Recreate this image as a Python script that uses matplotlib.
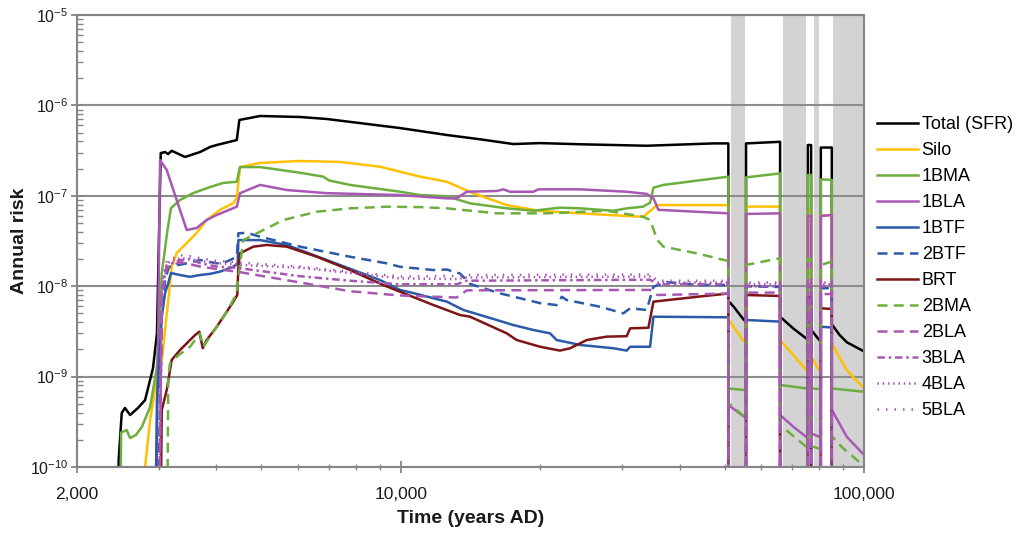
"""
Annual risk from the repository parts over time (log-log), shaded periods
where the release drops out.
"""
import matplotlib
matplotlib.use('Agg')
import matplotlib.pyplot as plt
from matplotlib.ticker import (FixedLocator, FixedFormatter, LogLocator,
                               NullFormatter, LogFormatterSciNotation)

plt.rcParams['font.family'] = ['Liberation Sans', 'DejaVu Sans']
plt.rcParams['mathtext.fontset'] = 'custom'
plt.rcParams['mathtext.rm'] = 'Liberation Sans'
plt.rcParams['mathtext.it'] = 'Liberation Sans:italic'
plt.rcParams['mathtext.bf'] = 'Liberation Sans:bold'

# ── DATA (years AD, annual risk) ─────────────────────────────────
OFF = 1e-12   # below the axis

total_years = [2450, 2460, 2498, 2538, 2604, 2708, 2805, 2918, 2976, 3032, 3098,
               3145, 3202, 3422, 3686, 3874, 4006, 4425, 4482, 4967, 6060, 6918,
               9963, 12568, 14826, 17494, 19981, 24373, 33960, 47227, 50940,
               50940, 52500, 53500, 55140, 55620,
               55620, 65880,
               65880, 70380, 74980, 75620,
               75620, 76860,
               76860, 79980, 80660,
               80660, 85180,
               85180, 88500, 91780, 100000]
total_risk = [OFF, 1.2e-10, 3.96e-10, 4.5e-10, 3.76e-10, 4.5e-10, 5.5e-10, 1.24e-9,
              3.0e-9, 2.97e-7, 3.05e-7, 2.9e-7, 3.15e-7, 2.69e-7, 3.05e-7, 3.47e-7,
              3.65e-7, 4.14e-7, 6.9e-7, 7.64e-7, 7.45e-7, 7.08e-7, 5.62e-7, 4.71e-7,
              4.22e-7, 3.74e-7, 3.83e-7, 3.72e-7, 3.58e-7, 3.8e-7, 3.8e-7,
              6.9e-9, 5.8e-9, 5.1e-9, 4.2e-9, 4.1e-9,
              3.8e-7, 3.96e-7,
              4.6e-9, 3.4e-9, 2.65e-9, 2.6e-9,
              3.65e-7, 3.65e-7,
              3.3e-9, 2.55e-9, 2.5e-9,
              3.42e-7, 3.42e-7,
              3.8e-9, 2.9e-9, 2.4e-9, 1.9e-9]

silo_years = [2790, 2805, 2876, 2972, 3048, 3148, 3202, 3282, 3450, 3626, 3810,
              4071, 4350, 4425, 4497, 4967, 6060, 7394, 9019, 11004, 12568, 14320,
              16936, 19981, 24373, 33340, 35100, 35800, 50940,
              50940, 53000, 55140, 55620,
              55620, 65880,
              65880, 70380, 74980, 75620,
              75620, 76860,
              76860, 79980, 80660,
              80660, 85180,
              85180, 91780, 100000]
silo_risk = [OFF, 1.0e-10, 3.3e-10, 9.2e-10, 1.5e-9, 7.0e-9, 1.64e-8, 2.33e-8, 3.0e-8,
             3.9e-8, 5.4e-8, 7.0e-8, 8.3e-8, 9.5e-8, 2.08e-7, 2.31e-7, 2.43e-7,
             2.37e-7, 2.1e-7, 1.63e-7, 1.43e-7, 1.07e-7, 7.9e-8, 6.8e-8, 6.4e-8,
             5.85e-8, 7.3e-8, 7.9e-8, 7.9e-8,
             4.3e-9, 3.2e-9, 2.43e-9, 2.4e-9,
             7.6e-8, 7.6e-8,
             2.54e-9, 1.73e-9, 1.18e-9, 1.15e-9,
             7.0e-8, 7.0e-8,
             1.66e-9, 1.18e-9, 1.15e-9,
             6.1e-8, 6.1e-8,
             2.3e-9, 1.18e-9, 7.4e-10]

bma1_years = [2470, 2490, 2560, 2604, 2680, 2760, 2876, 2976, 3048, 3130, 3190, 3338,
              3560, 3874, 4140, 4425, 4497, 4967, 6060, 6800, 7000, 7770, 9963,
              11004, 12568, 14110, 16936, 19330, 22065, 24373, 28760, 30740, 33340,
              34524, 35100, 36880, 50940,
              50940, 55140, 55620,
              55620, 65880,
              65880, 74980, 75620,
              75620, 76860,
              76860, 79980, 80660,
              80660, 85180,
              85180, 100000]
bma1_risk = [OFF, 2.4e-10, 2.57e-10, 2.09e-10, 2.26e-10, 2.77e-10, 4.6e-10, 1.28e-9,
             1.4e-8, 3.9e-8, 7.3e-8, 9.0e-8, 1.07e-7, 1.25e-7, 1.39e-7, 1.43e-7,
             2.08e-7, 2.08e-7, 1.8e-7, 1.63e-7, 1.48e-7, 1.32e-7, 1.11e-7, 1.02e-7,
             9.9e-8, 8.26e-8, 7.27e-8, 6.84e-8, 7.4e-8, 7.27e-8, 6.84e-8, 7.27e-8,
             7.58e-8, 8.4e-8, 1.23e-7, 1.32e-7, 1.63e-7,
             7.4e-10, 7.1e-10, 7.1e-10,
             1.6e-7, 1.77e-7,
             8.1e-10, 7.4e-10, 7.4e-10,
             1.7e-7, 1.7e-7,
             7.4e-10, 7.3e-10, 7.3e-10,
             1.52e-7, 1.5e-7,
             7.4e-10, 6.8e-10]

bla1_years = [2960, 2972, 3022, 3124, 3282, 3450, 3626, 3810, 4006, 4425, 4497, 4967,
              5672, 6918, 9963, 12568, 13200, 13880, 16110, 16650, 17210, 19330,
              19810, 24373, 30740, 33960, 35100, 35980, 50940,
              50940, 55140, 55620,
              55620, 65880,
              65880, 70380, 74980, 75620,
              75620, 76860,
              76860, 79980, 80660,
              80660, 85180,
              85180, 91780, 100000]
bla1_risk = [OFF, 1e-10, 2.49e-7, 1.93e-7, 9.0e-8, 4.19e-8, 4.41e-8, 5.4e-8, 6.14e-8,
             7.57e-8, 1.07e-7, 1.32e-7, 1.16e-7, 1.07e-7, 1.02e-7, 9.37e-8, 9.37e-8,
             1.11e-7, 1.13e-7, 1.18e-7, 1.11e-7, 1.11e-7, 1.18e-7, 1.18e-7, 1.11e-7,
             1.05e-7, 9.4e-8, 7.0e-8, 6.4e-8,
             4.85e-10, 3.6e-10, 3.6e-10,
             6.3e-8, 6.4e-8,
             3.76e-10, 2.79e-10, 2.16e-10, 2.16e-10,
             6.0e-8, 6.0e-8,
             2.36e-10, 2.16e-10, 2.16e-10,
             5.98e-8, 6.14e-8,
             4.3e-10, 2.16e-10, 1.36e-10]

btf1_years = [2930, 2976, 3048, 3098, 3148, 3190, 3338, 3508, 3686, 3874, 4071, 4350,
              4445, 4460, 4967, 5672, 6918, 9019, 9963, 10640, 12568, 13650, 16110,
              17494, 19330, 21000, 21700, 24373, 28760, 30740, 31260, 34524, 35100,
              50940,
              50940, 55620,
              55620, 65880,
              65880, 75620,
              75620, 76860,
              76860, 80660,
              80660, 85180,
              85180, 100000]
btf1_risk = [OFF, 5.5e-10, 4.6e-9, 8.4e-9, 1.08e-8, 1.4e-8, 1.33e-8, 1.27e-8, 1.33e-8,
             1.37e-8, 1.45e-8, 1.64e-8, 1.79e-8, 3.24e-8, 3.24e-8, 2.86e-8, 1.95e-8,
             1.17e-8, 9.1e-9, 8.4e-9, 6.75e-9, 5.46e-9, 4.23e-9, 3.72e-9, 3.28e-9,
             3.01e-9, 2.54e-9, 2.24e-9, 2.06e-9, 1.94e-9, 2.14e-9, 2.14e-9, 4.6e-9,
             4.53e-9,
             OFF, OFF,
             4.23e-9, 4.06e-9,
             OFF, OFF,
             4.0e-9, 4.0e-9,
             OFF, OFF,
             3.56e-9, 3.5e-9,
             OFF, OFF]

btf2_years = [2950, 3050, 3100, 3160, 3450, 3686, 4006, 4210, 4425, 4460, 4650, 4967,
              6060, 7770, 9326, 9963, 11760, 12568, 13430, 14110, 16376, 19981,
              21700, 22260, 22800, 26921, 30220, 31260, 33960, 35100, 37500, 44266,
              50940,
              50940, 55620,
              55620, 65880,
              65880, 75620,
              75620, 76860,
              76860, 80660,
              80660, 85180,
              85180, 100000]
btf2_risk = [OFF, 5e-9, 1.2e-8, 1.64e-8, 1.79e-8, 1.95e-8, 1.79e-8, 1.87e-8, 2.12e-8,
             3.85e-8, 3.9e-8, 3.53e-8, 2.74e-8, 2.12e-8, 1.79e-8, 1.64e-8, 1.51e-8,
             1.53e-8, 1.38e-8, 1.06e-8, 8.34e-9, 6.5e-9, 6.19e-9, 7.65e-9, 7.04e-9,
             5.93e-9, 5.01e-9, 5.7e-9, 5.46e-9, 9.89e-9, 1.11e-8, 1.03e-8, 1.03e-8,
             OFF, OFF,
             1.0e-8, 9.8e-9,
             OFF, OFF,
             1.0e-8, 1.0e-8,
             OFF, OFF,
             9.5e-9, 9.5e-9,
             OFF, OFF]

brt_years = [3010, 3048, 3124, 3202, 3338, 3596, 3674, 3736, 3810, 4006, 4210, 4350,
             4436, 4460, 4497, 4804, 5136, 5672, 6586, 7770, 9170, 9963, 11760,
             13430, 14110, 16936, 17790, 19981, 22065, 23200, 25200, 27840, 30740,
             31260, 34240, 35100, 44266, 50940,
             50940, 55620,
             55620, 65880,
             65880, 75620,
             75620, 76860,
             76860, 80660,
             80660, 85180,
             85180, 100000]
brt_risk = [OFF, 4.27e-10, 7.11e-10, 1.53e-9, 1.97e-9, 2.88e-9, 3.14e-9, 2.06e-9,
            2.54e-9, 3.56e-9, 5.22e-9, 6.75e-9, 8.0e-9, 1.64e-8, 2.31e-8, 2.74e-8,
            2.86e-8, 2.74e-8, 2.12e-8, 1.51e-8, 1.03e-8, 8.69e-9, 6.19e-9, 4.8e-9,
            4.6e-9, 3.01e-9, 2.54e-9, 2.14e-9, 1.94e-9, 2.06e-9, 2.54e-9, 2.77e-9,
            2.8e-9, 3.42e-9, 3.47e-9, 6.75e-9, 7.7e-9, 8.3e-9,
            OFF, OFF,
            8.0e-9, 7.8e-9,
            OFF, OFF,
            7.5e-9, 7.5e-9,
            OFF, OFF,
            5.7e-9, 5.6e-9,
            OFF, OFF]

bma2_years = [3120, 3148, 3176, 3282, 3508, 3686, 3745, 4006, 4210, 4425, 4460, 4572,
              4726, 4967, 5578, 6586, 7770, 9326, 11004, 12568, 16110, 20640, 27840,
              33340, 34524, 35800, 36880, 43540, 50940,
              50940, 55140, 55620,
              55620, 65880,
              65880, 70380, 74980, 75620,
              75620, 76860,
              76860, 79980, 80660,
              80660, 85180,
              85180, 90240, 96480, 100000]
bma2_risk = [OFF, 1.0e-9, 1.41e-9, 1.66e-9, 2.14e-9, 3.0e-9, 2.14e-9, 3.56e-9, 5.2e-9,
             8.34e-9, 1.27e-8, 3.24e-8, 3.53e-8, 4.01e-8, 5.4e-8, 6.67e-8, 7.27e-8,
             7.58e-8, 7.5e-8, 7.27e-8, 6.4e-8, 6.4e-8, 6.84e-8, 5.87e-8, 5.4e-8,
             3.24e-8, 2.74e-8, 2.31e-8, 1.9e-8,
             5.1e-10, 3.6e-10, 3.6e-10,
             1.72e-8, 2.04e-8,
             2.92e-10, 2.2e-10, 1.68e-10, 1.68e-10,
             2.0e-8, 2.0e-8,
             1.7e-10, 1.6e-10, 1.6e-10,
             1.72e-8, 1.87e-8,
             2.2e-10, 1.6e-10, 1.2e-10, 1.0e-10]

# 2BLA..5BLA share one time grid
bla_years = [2985, 3050, 3124, 3338, 3508, 3686, 4006, 4425, 4497, 6060, 7770, 9963,
             13200, 13880, 34524, 35800, 50940,
             50940, 55620,
             55620, 65880,
             65880, 75620,
             75620, 76860,
             76860, 80660,
             80660, 85180,
             85180, 100000]
bla2_risk = [OFF, 8e-9, 1.6e-8, 1.85e-8, 1.75e-8, 1.65e-8, 1.55e-8, 1.45e-8, 1.43e-8,
             1.1e-8, 8.8e-9, 7.9e-9, 7.5e-9, 9.0e-9, 9.1e-9, 8.0e-9, 8.3e-9,
             OFF, OFF, 8.5e-9, 8.5e-9, OFF, OFF, 8.5e-9, 8.5e-9, OFF, OFF,
             8.2e-9, 8.2e-9, OFF, OFF]
bla3_risk = [OFF, 9e-9, 1.7e-8, 1.95e-8, 2.0e-8, 1.8e-8, 1.65e-8, 1.6e-8, 1.58e-8,
             1.29e-8, 1.15e-8, 1.05e-8, 1.05e-8, 1.15e-8, 1.18e-8, 1.05e-8, 1.05e-8,
             OFF, OFF, 1.0e-8, 1.0e-8, OFF, OFF, 1.0e-8, 1.0e-8, OFF, OFF,
             1.0e-8, 1.0e-8, OFF, OFF]
bla4_risk = [OFF, 1e-8, 1.8e-8, 2.05e-8, 2.0e-8, 1.9e-8, 1.8e-8, 1.75e-8, 1.72e-8,
             1.6e-8, 1.4e-8, 1.22e-8, 1.2e-8, 1.25e-8, 1.28e-8, 1.1e-8, 1.1e-8,
             OFF, OFF, 1.05e-8, 1.05e-8, OFF, OFF, 1.05e-8, 1.05e-8, OFF, OFF,
             1.05e-8, 1.05e-8, OFF, OFF]
bla5_risk = [OFF, 1.1e-8, 1.9e-8, 2.2e-8, 2.15e-8, 2.05e-8, 1.9e-8, 1.85e-8, 1.82e-8,
             1.65e-8, 1.45e-8, 1.28e-8, 1.3e-8, 1.33e-8, 1.35e-8, 1.15e-8, 1.15e-8,
             OFF, OFF, 1.1e-8, 1.1e-8, OFF, OFF, 1.1e-8, 1.1e-8, OFF, OFF,
             1.1e-8, 1.1e-8, OFF, OFF]

# grey periods
shade_start = [51560, 66940, 78100, 85880]
shade_end = [55360, 74980, 79980, 100000]

x_ticks = [2000, 10000, 100000]
x_tick_labels = ['2,000', '10,000', '100,000']
y_ticks = [1e-10, 1e-9, 1e-8, 1e-7, 1e-6, 1e-5]

# ── STYLE ─────────────────────────────────────────────────────────
BLACK  = '#000000'
GOLD   = '#FFC000'
GREEN  = '#6DAF3E'
PURPLE = '#A858B4'
BLUE   = '#2A5AA8'
DKRED  = '#7E1414'
SHADE  = '#D3D3D3'
AXC    = '#858585'
TXT    = '#1A1A1A'

DASH    = (4, 2.5)
DASHDOT = (3, 1.5, 1, 1.5)
DOT     = (0.6, 1.5)
SPARSE  = (0.6, 2.8)

series = [
    ('Total (SFR)', total_years, total_risk, BLACK, None),
    ('Silo',        silo_years,  silo_risk,  GOLD,   None),
    ('1BMA',        bma1_years,  bma1_risk,  GREEN,  None),
    ('1BLA',        bla1_years,  bla1_risk,  PURPLE, None),
    ('1BTF',        btf1_years,  btf1_risk,  BLUE,   None),
    ('2BTF',        btf2_years,  btf2_risk,  BLUE,   DASH),
    ('BRT',         brt_years,   brt_risk,   DKRED,  None),
    ('2BMA',        bma2_years,  bma2_risk,  GREEN,  DASH),
    ('2BLA',        bla_years,   bla2_risk,  PURPLE, DASH),
    ('3BLA',        bla_years,   bla3_risk,  PURPLE, DASHDOT),
    ('4BLA',        bla_years,   bla4_risk,  PURPLE, DOT),
    ('5BLA',        bla_years,   bla5_risk,  PURPLE, SPARSE),
]

# ── PLOT ──────────────────────────────────────────────────────────
fig = plt.figure(figsize=(10.24, 5.33), dpi=100)
ax = fig.add_axes([0.0752, 0.1238, 0.7686, 0.848])
ax.set_xscale('log')
ax.set_yscale('log')

for s, e in zip(shade_start, shade_end):
    ax.axvspan(s, e, color=SHADE, lw=0, zorder=0.2)

for label, t, r, color, dashes in series:
    ln, = ax.plot(t, r, color=color, lw=1.8, label=label, zorder=2)
    if dashes:
        ln.set_dashes(dashes)

ax.set_xlim(2000, 100000)
ax.set_ylim(1e-10, 1e-5)

ax.xaxis.set_major_locator(FixedLocator(x_ticks))
ax.xaxis.set_major_formatter(FixedFormatter(x_tick_labels))
ax.xaxis.set_minor_locator(LogLocator(base=10, subs=range(2, 10)))
ax.xaxis.set_minor_formatter(NullFormatter())
ax.yaxis.set_major_locator(FixedLocator(y_ticks))
ax.yaxis.set_major_formatter(LogFormatterSciNotation())
ax.yaxis.set_minor_locator(LogLocator(base=10, subs=range(2, 10), numticks=10))
ax.yaxis.set_minor_formatter(NullFormatter())

ax.tick_params(axis='both', which='major', direction='inout', length=9,
               width=1.3, color=AXC, labelcolor=TXT)
ax.tick_params(axis='x', which='major', pad=10, labelsize=12.5)
ax.tick_params(axis='y', which='major', pad=2, labelsize=11.5)
ax.tick_params(axis='x', which='minor', direction='inout', length=5, width=1, color=AXC)
ax.tick_params(axis='y', which='minor', direction='in', length=4, width=1, color=AXC)

for sp in ax.spines.values():
    sp.set_color(AXC)
    sp.set_linewidth(1.5)
ax.yaxis.grid(True, which='major', color='#8C8C8C', lw=1.5)
ax.set_axisbelow(True)

ax.set_xlabel('Time (years AD)', fontsize=14, fontweight='bold', color=TXT, labelpad=6)
ax.set_ylabel('Annual risk', fontsize=14, fontweight='bold', color=TXT)
ax.yaxis.set_label_coords(-0.062, 0.5)

ax.legend(loc='upper left', bbox_to_anchor=(0.856, 0.782),
          bbox_transform=fig.transFigure, frameon=False, fontsize=13,
          handlelength=2.3, handletextpad=0.2, labelspacing=0.5,
          borderaxespad=0, borderpad=0)

fig.savefig('out.png', dpi=100)
